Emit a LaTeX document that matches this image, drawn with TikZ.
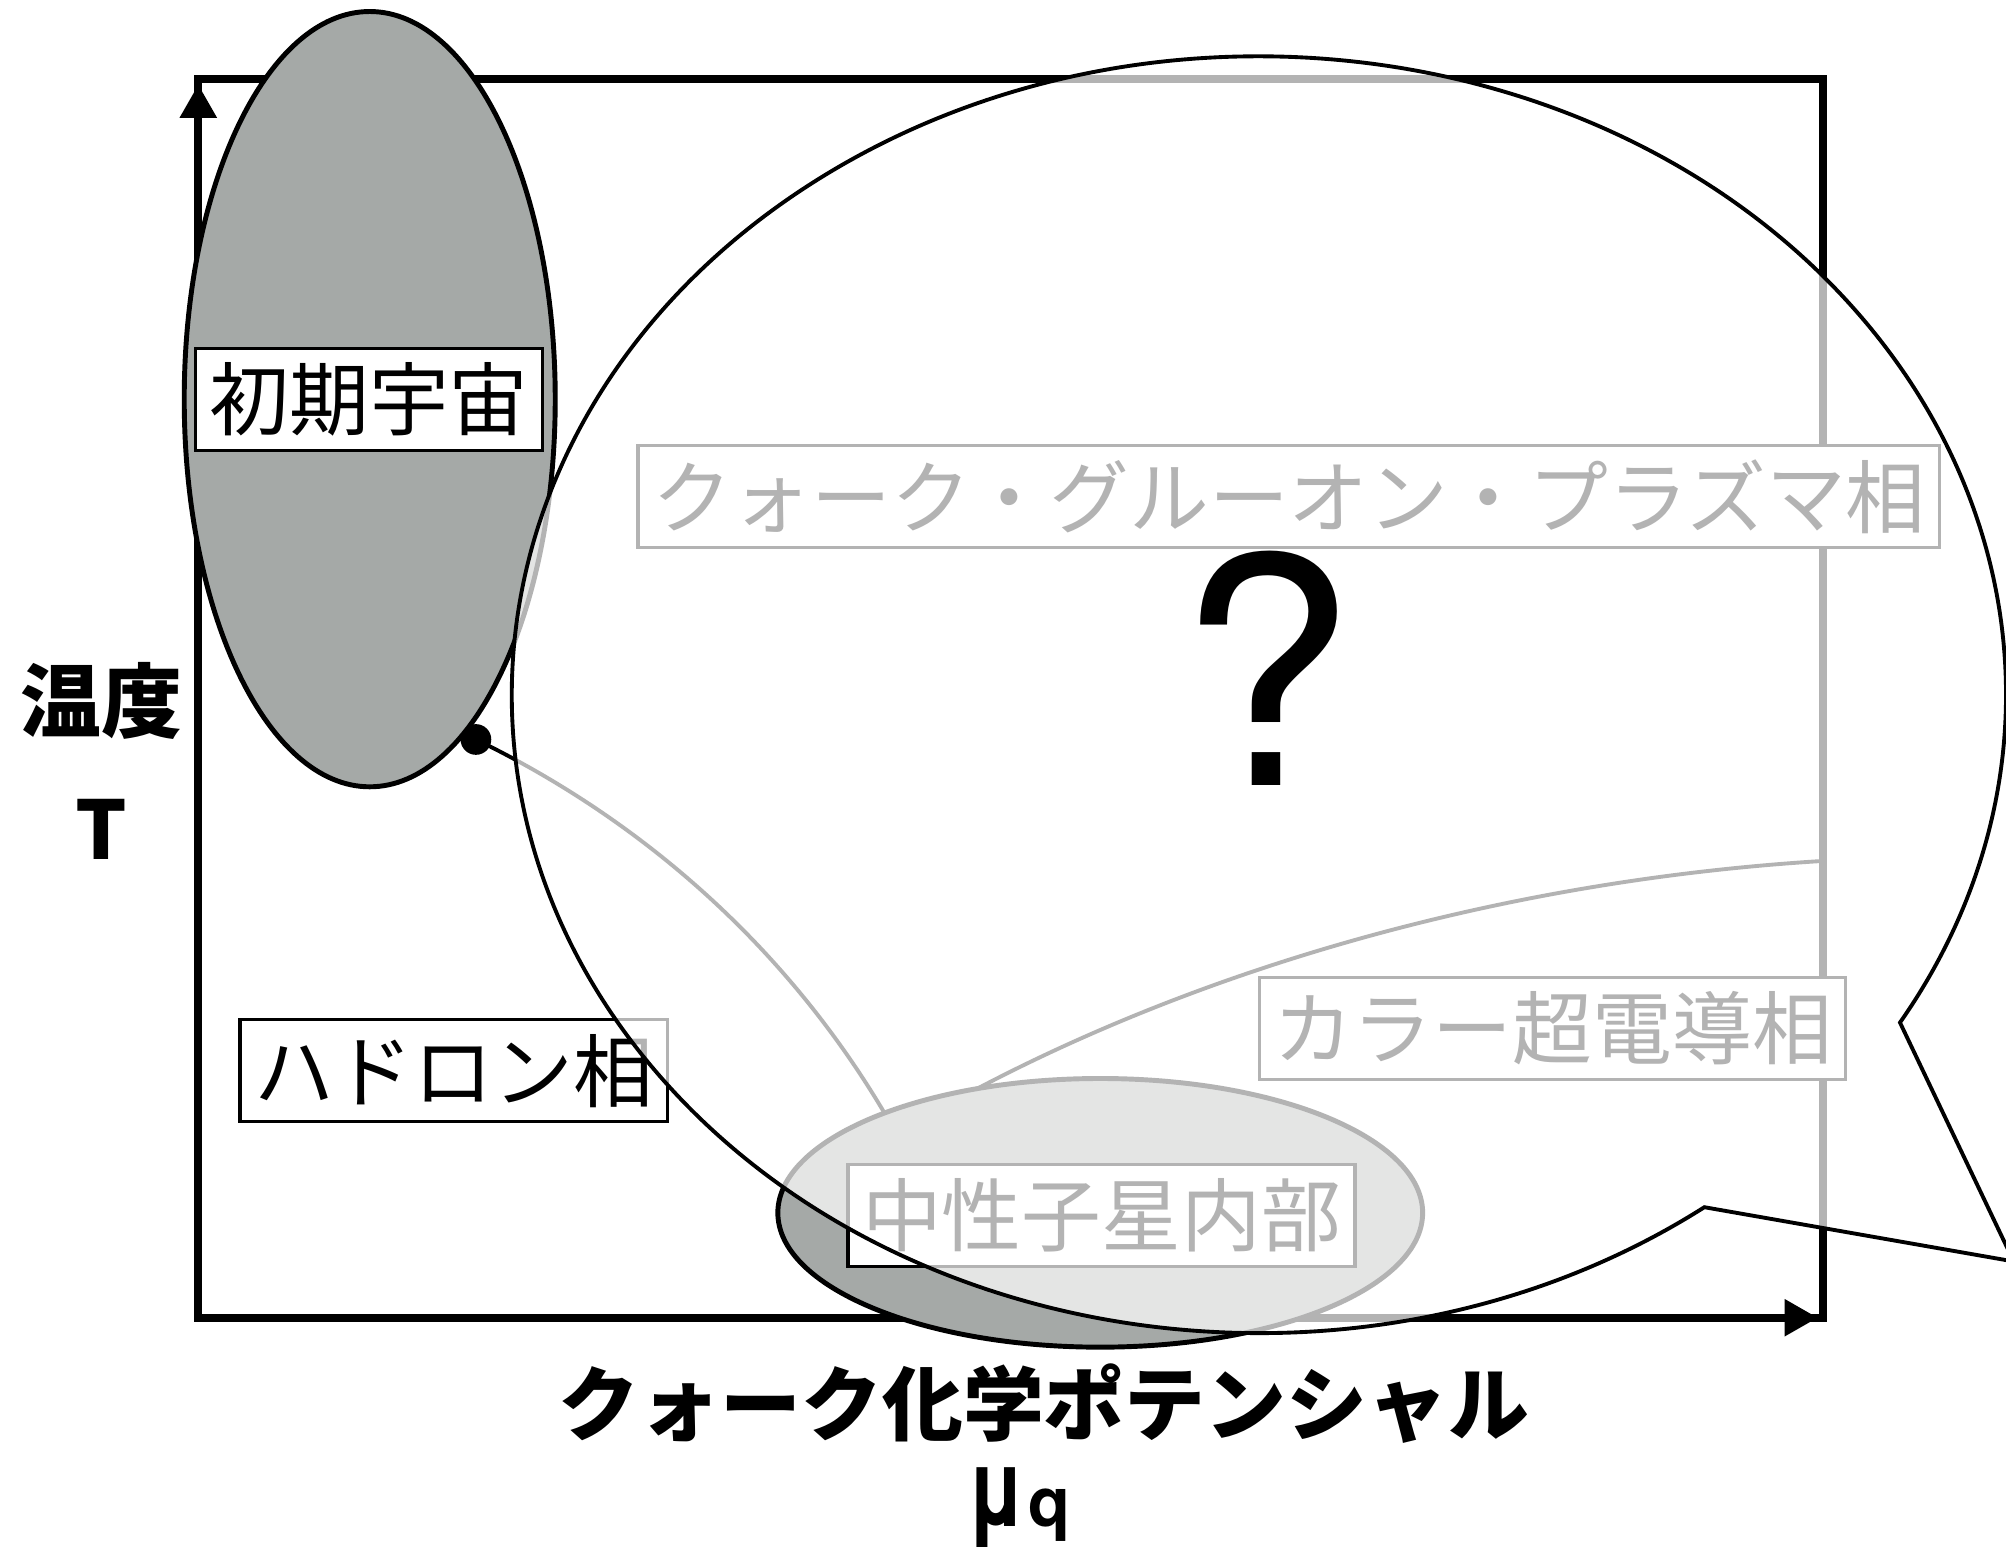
\documentclass[tikz,border=0pt]{standalone}
\usepackage{fontspec}
\newfontfamily\jp{Noto Sans CJK JP}
\newfontfamily\heros{TeX Gyre Heros}
\usetikzlibrary{arrows.meta}
\definecolor{fillgray}{RGB}{165,169,167}
\begin{document}
\begin{tikzpicture}[x=0.1279mm,y=-0.1279mm,
  lbl/.style={draw=black, line width=0.9pt, fill=white, inner xsep=4pt, inner ysep=0pt,
    minimum height=29pt, outer sep=0pt, font=\jp\fontsize{22.7pt}{27pt}\selectfont},
  axlbl/.style={font=\jp\bfseries\fontsize{23pt}{28pt}\selectfont, inner sep=0pt},
  blob/.style={draw=black, line width=1.4pt, fill=fillgray},
  boundary/.style={draw=black, line width=1.1pt},
  axisline/.style={line width=2.3pt, line join=miter},
  axistip/.style={line width=2.3pt, -{Triangle[length=9.5pt,width=10pt]}},
  bubble/.style={draw=black, line width=1.1pt, fill=white, fill opacity=0.7}]
\clip (0,0) rectangle (1568,1209);
\fill[white] (0,0) rectangle (1568,1209);
% axes frame
\coordinate (o) at (155,1030);
\coordinate (tl) at (155,62);
\coordinate (tr) at (1425,62);
\coordinate (br) at (1425,1030);
\draw[axisline] (o) -- (tl) -- (tr) -- (br) -- cycle;
\coordinate (ya) at (155,300);
\coordinate (yt) at (155,66);
\coordinate (xa) at (1200,1030);
\coordinate (xt) at (1421,1030);
\draw[axistip] (ya) -- (yt);
\draw[axistip] (xa) -- (xt);
% phase boundaries
\coordinate (cp) at (372,578);
\coordinate (hend) at (700,885);
\coordinate (cstart) at (715,878);
\coordinate (cend) at (1424,673);
\draw[boundary] (cp) .. controls (520,650) and (630,760) .. (hend);
\draw[boundary] (cstart) .. controls (900,770) and (1150,690) .. (cend);
% phase labels
\node[lbl] (qgp) at (1007.5,388) {クォーク・グルーオン・プラズマ相};
\node[lbl] (csc) at (1213.5,804) {カラー超電導相};
\node[lbl] (had) at (354.5,837) {ハドロン相};
% neutron star
\draw[blob] (860,948) ellipse[x radius=252, y radius=105];
\node[lbl] (ns) at (861,950) {中性子星内部};
% early universe
\draw[blob] (289,312) ellipse[x radius=145, y radius=303];
\node[lbl] (eu) at (288.5,312) {初期宇宙};
% critical point
\fill (cp) circle[radius=12];
% speech bubble
\coordinate (tip) at (1574,986);
\draw[bubble] (1332.2,943.6) arc[start angle=53.4, end angle=390.9, x radius=584, y radius=499] -- (tip) -- cycle;
\node[font=\heros\fontsize{90pt}{92pt}\selectfont, inner sep=0pt] (qm) at (990,522) {?};
% axis labels
\node[axlbl] (tlab) at (79,548) {温度};
\node[axlbl] (tsym) at (79,648) {T};
\node[axlbl] (xlab) at (816,1097) {クォーク化学ポテンシャル};
\node[inner sep=0pt, anchor=base west, font=\heros\bfseries] (mu) at (756,1193)
  {\scalebox{0.72}[1]{\fontsize{31pt}{33pt}\selectfont μ}\hspace{0.8pt}{\fontsize{19.5pt}{21pt}\selectfont q}};
\end{tikzpicture}
\end{document}
